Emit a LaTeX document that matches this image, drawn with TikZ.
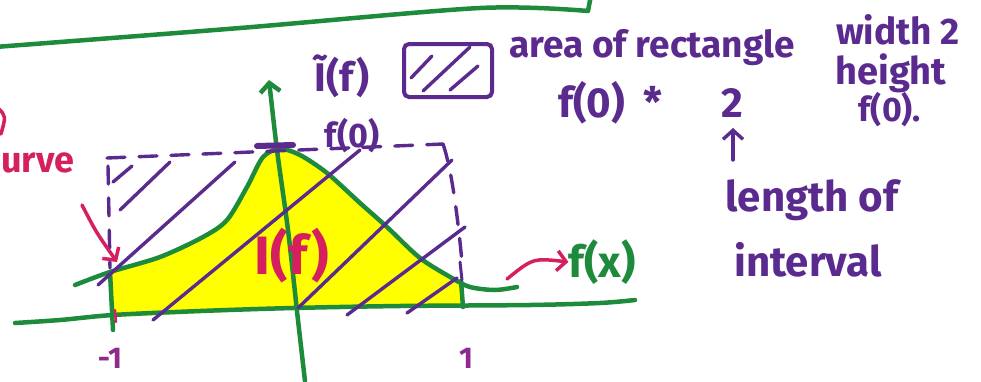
\documentclass[tikz,border=0pt]{standalone}
\usepackage{fontspec}
\setmainfont{Fira Sans}
\usetikzlibrary{arrows.meta}
\definecolor{pgreen}{HTML}{1E8A3C}
\definecolor{ppurple}{HTML}{5A2A8E}
\definecolor{pred}{HTML}{D61F5E}
\definecolor{pmag}{HTML}{8E2A8E}
\definecolor{pyellow}{HTML}{FFFF00}
\newcommand{\fsz}[1]{\fontsize{#1}{#1}\selectfont\bfseries}
\tikzset{
  gline/.style={draw=pgreen, line width=4.5pt, line cap=round, line join=round},
  pline/.style={draw=ppurple, line width=3.4pt, line cap=round},
  rline/.style={draw=pred, line width=3.5pt, line cap=round},
  dashline/.style={pline, dash pattern=on 18pt off 14pt},
  barb/.style={-{Straight Barb[length=9pt,width=20pt]}},
  ptext/.style={text=ppurple, inner sep=0pt},
  rtext/.style={text=pred, inner sep=0pt},
  gtext/.style={text=pgreen, inner sep=0pt},
  mtext/.style={text=pmag, inner sep=0pt},
}
\begin{document}
\begin{tikzpicture}[x=1pt,y=-1pt]
\useasboundingbox (0,0) rectangle (981,381);
\clip (0,0) rectangle (981,381);
% top green line
\draw[gline] plot[smooth] coordinates {(-5,47) (240,28) (480,8) (588,11)} -- (591,-5);
% left red fragments
\draw[rline] (-2,108) .. controls (6,116) .. (1,134);
\node[rtext, font=\fsz{36}, anchor=west] (curve) at (1,163) {urve};
% yellow fill
\fill[pyellow] plot[smooth] coordinates {(110,272) (160,257) (203,237) (227,220) (247,187) (263,157) (280,149) (300,155) (327,173) (360,203) (387,227) (420,258) (462,281)} -- (464,307) -- (300,309) -- (112,317) -- cycle;
% axes
\draw[gline] plot[smooth] coordinates {(15,323) (60,320) (113,315) (200,311) (293,308) (400,306) (530,305) (600,303) (635,300)};
\draw[gline, barb] plot[smooth] coordinates {(305,381) (298,320) (288,230) (277,150) (269,80)};
% curve f(x)
\draw[gline] plot[smooth] coordinates {(75,285) (110,272) (160,257) (203,237) (227,220) (247,187) (263,157) (280,149) (300,155) (327,173) (360,203) (387,227) (420,258) (452,278) (470,287) (495,290) (517,287)};
% interval verticals
\draw[gline] (110,272) -- (113,330);
\draw[gline] (461,281) -- (463,307);
\draw[rline, line width=2.5pt] (115,310) -- (116,322);
% dashed rectangle
\draw[dashline] (107,158) -- (443,144);
\draw[dashline] (108,166) -- (110,268);
\draw[dashline] (443,144) .. controls (452,170) and (458,220) .. (462,262);
\draw[pline, line width=3pt] (460,262) -- (462,280);
\draw[ppurple, line width=6pt, line cap=round] (257,146) -- (293,145);
% hatching
\draw[pline] (113,182) -- (132,166);
\draw[pline] (120,210) -- (170,162);
\draw[pline] (98,285) -- (235,162);
\draw[pline] (153,320) -- (360,150);
\draw[pline] (298,308) -- (452,160);
\draw[pline] (347,315) -- (465,227);
\draw[pline] (407,313) -- (457,278);
% red arrow to -1 corner
\coordinate (lefttarget) at (117,262);
\draw[rline, barb] (82,205) .. controls (96,232) .. (lefttarget);
% labels on graph
\node[rtext, font=\fsz{54}] (If) at (292,256) {I(f)};
\node[gtext, font=\fsz{44}] (fx) at (602,262) {f(x)};
\draw[rline, barb] (507,279) .. controls (533,258) .. (fx.west);
\node[ptext, font=\fsz{40}] (Itilde) at (342,76) {Ĩ(f)};
\node[ptext, font=\fsz{34}] (f0) at (352,136) {f(0)};
\node[mtext, font=\fsz{30}] (m1) at (110,358) {-1};
\node[mtext, font=\fsz{30}] (p1) at (466,358) {1};
% legend box
\draw[ppurple, line width=4pt, rounded corners=5pt] (404,44) rectangle (492,97);
\draw[pline] (411,78) -- (432,56);
\draw[pline] (423,91) -- (470,47);
\draw[pline] (450,90) -- (478,66);
% right texts
\node[ptext, font=\fsz{37}] (area) at (652,48) {area of rectangle};
\node[ptext, font=\fsz{37}] (width) at (898,30) {width 2};
\node[ptext, font=\fsz{38}] (height) at (891,73) {height};
\node[ptext, font=\fsz{34}] (fo) at (890,110) {f(0).};
\node[ptext, font=\fsz{42}, anchor=west] (prod) at (558,103) {f(0)\hspace{18pt}*\hspace{60pt}2};
\coordinate (two) at (733,128);
\node[ptext, font=\fsz{42}] (len) at (812,200) {length of};
\node[ptext, font=\fsz{42}] (intv) at (808,260) {interval};
\draw[pline, barb] (733,160) -- (two);
\end{tikzpicture}
\end{document}
